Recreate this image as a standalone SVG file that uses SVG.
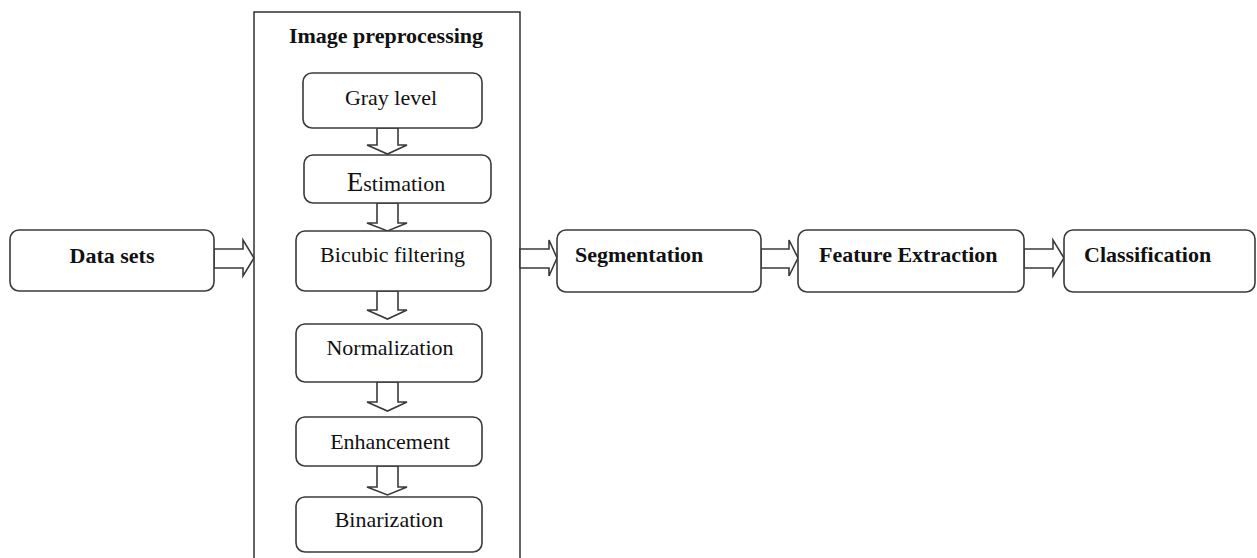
<svg xmlns="http://www.w3.org/2000/svg" width="1257" height="558" viewBox="0 0 1257 558">
<style>
.box{fill:#fff;stroke:#3a3a3a;stroke-width:1.6}
.frame{fill:none;stroke:#111;stroke-width:1.3}
.arr{fill:#fff;stroke:#3a3a3a;stroke-width:1.6;stroke-linejoin:miter}
.t{font-family:"Liberation Serif","Times New Roman",serif;font-size:22px;fill:#111}
.b{font-family:"Liberation Serif","Times New Roman",serif;font-size:22px;font-weight:bold;fill:#111}
</style>
<rect width="1257" height="558" fill="#fff"/>
<g id="preprocessing">
<rect class="frame" x="254" y="12" width="266" height="560"/>
<text class="b" x="386" y="43" text-anchor="middle">Image preprocessing</text>
</g>
<g id="connectors">
<polygon class="arr" points="214,249 243,249 243,240 254,258 243,276 243,268 214,268"/>
<polygon class="arr" points="520,249 549,249 549,240 557,258 549,276 549,268 520,268"/>
<polygon class="arr" points="761,249 789,249 789,240 798,258 789,276 789,268 761,268"/>
<polygon class="arr" points="1024,249 1053,249 1053,240 1064,258 1053,276 1053,268 1024,268"/>
<polygon class="arr" points="377,128 377,145 367,145 387.5,154 407,145 398,145 398,128"/>
<polygon class="arr" points="377,203 377,223 367,223 387.5,231 407,223 398,223 398,203"/>
<polygon class="arr" points="377,291 377,310 367,310 387.5,319 407,310 398,310 398,291"/>
<polygon class="arr" points="377,382 377,402 367,402 387.5,411 407,402 398,402 398,382"/>
<polygon class="arr" points="377,466 377,487 367,487 387.5,495 407,487 398,487 398,466"/>
</g>
<g id="data-sets">
<rect class="box" x="10" y="230" width="204" height="61" rx="9"/>
<text class="b" x="112" y="263" text-anchor="middle">Data sets</text>
</g>
<g id="gray-level">
<rect class="box" x="303" y="73" width="179" height="55" rx="9"/>
<text class="t" x="391" y="105" text-anchor="middle">Gray level</text>
</g>
<g id="estimation">
<rect class="box" x="304" y="155" width="187" height="48" rx="9"/>
<text class="t" x="396" y="191" text-anchor="middle"><tspan font-size="27px">E</tspan>stimation</text>
</g>
<g id="bicubic-filtering">
<rect class="box" x="296" y="231" width="195" height="60" rx="9"/>
<text class="t" x="392.5" y="262" text-anchor="middle">Bicubic filtering</text>
</g>
<g id="normalization">
<rect class="box" x="296" y="324" width="186" height="58" rx="9"/>
<text class="t" x="390" y="355" text-anchor="middle">Normalization</text>
</g>
<g id="enhancement">
<rect class="box" x="296" y="417" width="186" height="49" rx="9"/>
<text class="t" x="390" y="449" text-anchor="middle">Enhancement</text>
</g>
<g id="binarization">
<rect class="box" x="296" y="497" width="186" height="55" rx="9"/>
<text class="t" x="389" y="527" text-anchor="middle">Binarization</text>
</g>
<g id="segmentation">
<rect class="box" x="557" y="230" width="204" height="62" rx="9"/>
<text class="b" x="575" y="262">Segmentation</text>
</g>
<g id="feature-extraction">
<rect class="box" x="798" y="230" width="226" height="62" rx="9"/>
<text class="b" x="819" y="262">Feature Extraction</text>
</g>
<g id="classification">
<rect class="box" x="1064" y="230" width="191" height="62" rx="9"/>
<text class="b" x="1084" y="262">Classification</text>
</g>
</svg>
